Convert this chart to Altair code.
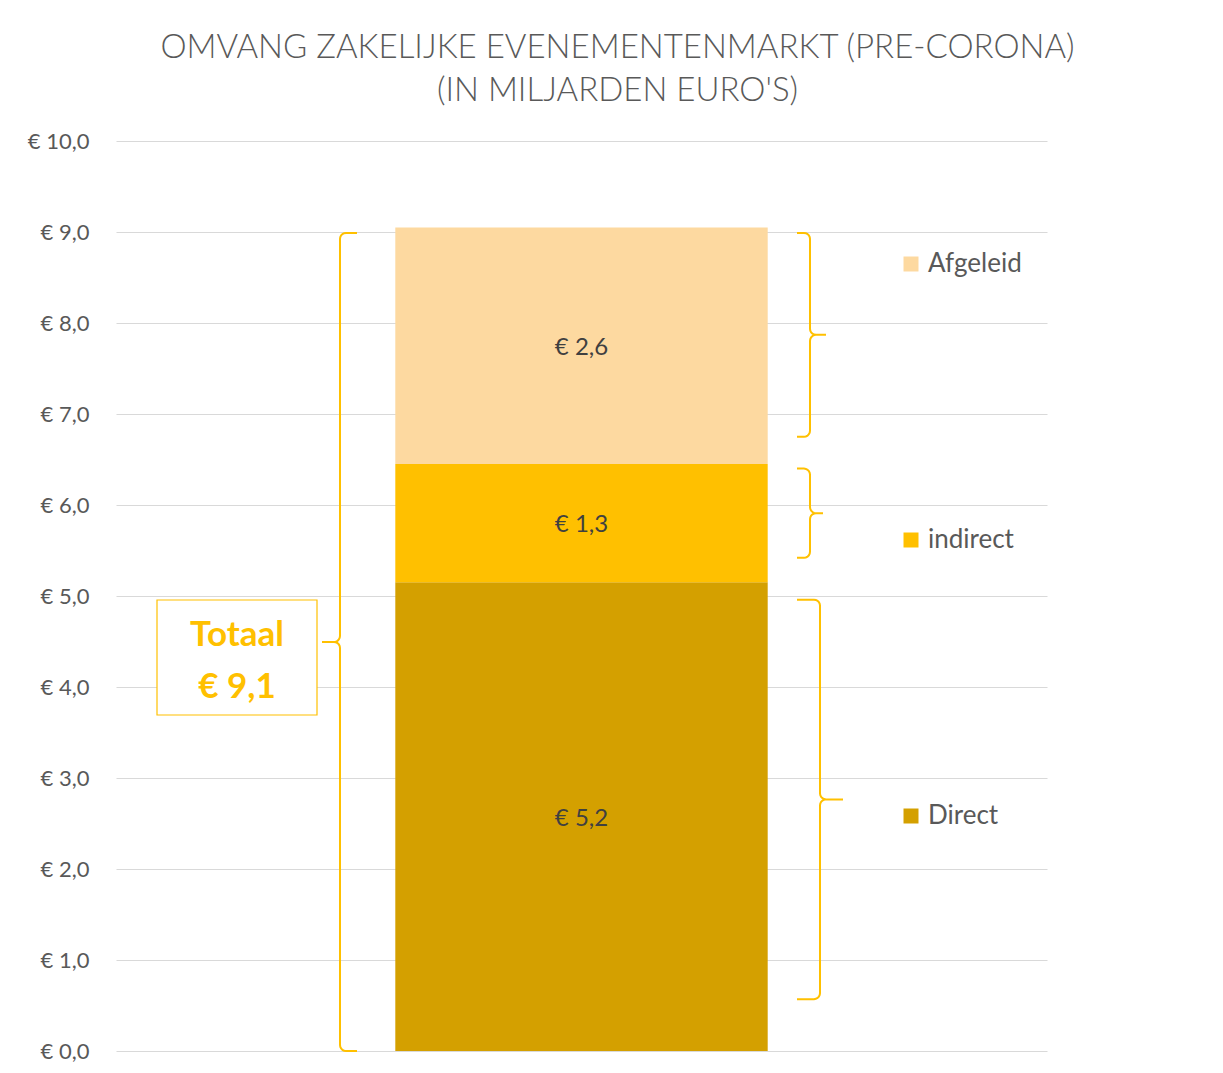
import altair as alt
import pandas as pd
import numpy as np

# ---------------- data ----------------
categories = ["Direct", "indirect", "Afgeleid"]
values = [5.15, 1.3, 2.6]
colors = ["#D4A000", "#FFC000", "#FDD9A0"]
legend_order = ["Afgeleid", "indirect", "Direct"]
y_ticks = [0, 1, 2, 3, 4, 5, 6, 7, 8, 9, 10]
title_lines = ["OMVANG ZAKELIJKE EVENEMENTENMARKT (PRE-CORONA)", "(IN MILJARDEN EURO'S)"]
total_label = "Totaal"

# brace annotations (value ranges)
brace_names = ["Totaal", "Afgeleid", "indirect", "Direct"]
brace_lo = [0.0, 6.75, 5.42, 0.57]
brace_hi = [8.99, 8.99, 6.40, 4.96]

# ---------------- layout ----------------
W, H = 931, 910
ACCENT = "#FFC000"
TEXT = "#595959"
brace_x = [224, 694, 694, 704]
brace_side = [-1, 1, 1, 1]
brace_end = [17, 13, 13, 23]
brace_tip = [18, 16, 13, 23]

# ---------------- tables ----------------
df = pd.DataFrame({"cat": categories, "value": values})
df["group"] = "markt"
df["end"] = df["value"].cumsum()
df["start"] = df["end"] - df["value"]
df["mid"] = (df["start"] + df["end"]) / 2
df["label"] = ["€ " + f"{v:.1f}".replace(".", ",") for v in values]

total = round(sum(values), 2)
total_text = total_label + "\n€ " + f"{total:.1f}".replace(".", ",")


def brace_points(name, xv, s, a, t, lo, hi, r=6):
    ry = r * 10.0 / H
    m = (lo + hi) / 2
    pts = [(xv - s * a, hi)]
    for ang in np.radians(np.linspace(90, 0, 6)):
        pts.append((xv - s * r + s * r * np.cos(ang), hi - ry + ry * np.sin(ang)))
    for ang in np.radians(np.linspace(180, 270, 6)):
        pts.append((xv + s * r + s * r * np.cos(ang), m + ry + ry * np.sin(ang)))
    pts.append((xv + s * t, m))
    for ang in np.radians(np.linspace(90, 180, 6)):
        pts.append((xv + s * r + s * r * np.cos(ang), m - ry + ry * np.sin(ang)))
    for ang in np.radians(np.linspace(0, -90, 6)):
        pts.append((xv - s * r + s * r * np.cos(ang), lo + ry + ry * np.sin(ang)))
    pts.append((xv - s * a, lo))
    return [{"brace": name, "i": i, "bx": p[0], "by": p[1]} for i, p in enumerate(pts)]


rows = []
for k, n in enumerate(brace_names):
    rows += brace_points(n, brace_x[k], brace_side[k], brace_end[k], brace_tip[k],
                         brace_lo[k], brace_hi[k])
braces = pd.DataFrame(rows)

yscale = alt.Scale(domain=[0, 10], nice=False)

bars = alt.Chart(df).mark_bar().encode(
    x=alt.X("group:N", scale=alt.Scale(paddingInner=0, paddingOuter=0.75), axis=None),
    y=alt.Y("start:Q", scale=yscale, title=None,
            axis=alt.Axis(values=y_ticks,
                          labelExpr="'€ ' + replace(format(datum.value, '.1f'), '.', ',')",
                          ticks=False, domain=False, grid=True, gridColor="#D9D9D9",
                          labelFontSize=22, labelColor=TEXT, labelFont="Lato",
                          labelPadding=27)),
    y2="end:Q",
    color=alt.Color("cat:N", scale=alt.Scale(domain=legend_order,
                                             range=[colors[categories.index(c)] for c in legend_order]),
                    legend=alt.Legend(title=None, orient="none", legendX=782, legendY=110,
                                      direction="vertical", symbolType="square",
                                      symbolSize=225, symbolStrokeWidth=0,
                                      labelFontSize=26, labelFont="Lato", labelColor=TEXT,
                                      labelOffset=4, rowPadding=250)),
)

labels = alt.Chart(df).mark_text(font="Lato", fontSize=24, color="#404040", dy=2).encode(
    x=alt.X("group:N", scale=alt.Scale(paddingInner=0, paddingOuter=0.75), axis=None),
    y=alt.Y("mid:Q", scale=yscale),
    text="label:N",
)

brace_layer = alt.Chart(braces).mark_line(color=ACCENT, strokeWidth=2).encode(
    x=alt.X("bx:Q", scale=alt.Scale(domain=[0, W], nice=False, zero=False), axis=None),
    y=alt.Y("by:Q", scale=yscale),
    detail="brace:N",
    order="i:Q",
)

box_df = pd.DataFrame({"t": [total_text]})
box = alt.Chart(box_df).mark_rect(fill="white", stroke=ACCENT, strokeWidth=1.2).encode(
    x=alt.value(41), x2=alt.value(201), y=alt.value(459), y2=alt.value(574)
)
box_text = alt.Chart(box_df).mark_text(
    font="Lato", fontSize=35, fontWeight="bold", color=ACCENT, lineBreak="\n",
    lineHeight=52, baseline="middle", align="center"
).encode(x=alt.value(121), y=alt.value(494), text="t:N")

chart = alt.layer(bars, labels, brace_layer, box, box_text).resolve_scale(
    x="independent"
).properties(
    width=W, height=H,
    title=alt.Title(title_lines, font="Lato", fontSize=33, fontWeight=300, color=TEXT,
                    anchor="middle", dx=36, offset=22, lineHeight=43),
    autosize=alt.AutoSizeParams(type="none"),
    padding={"left": 108, "top": 133, "right": 160, "bottom": 14},
).configure_view(stroke=None)

chart.save("out.html", embed_options={"renderer": "svg", "actions": False})
